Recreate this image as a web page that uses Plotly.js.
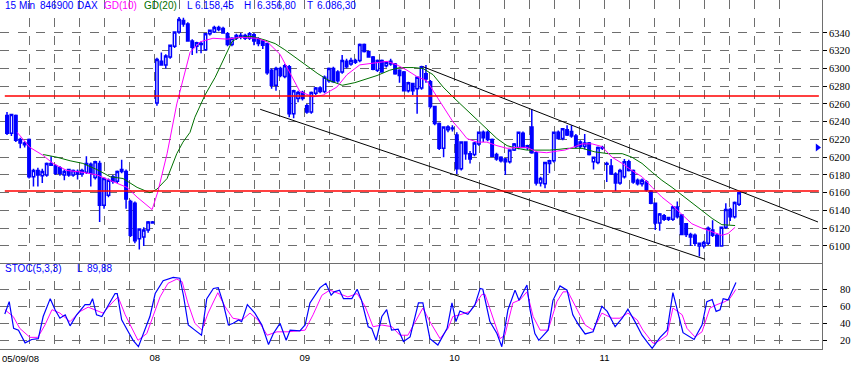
<!DOCTYPE html>
<html><head><meta charset="utf-8">
<script src="https://cdn.plot.ly/plotly-3.0.1.min.js"></script>
<style>html,body{margin:0;padding:0;background:#fff}#chart{width:853px;height:367px}</style>
</head><body><div id="chart"></div>
<script>
// ---- OHLC (15 min bars, DAX) ----
const open = [
 6247,6227,6247,6220,6216,6220,6178,6185,6179,6180,6193,6190,6188,6180,6186,6180,6184,6181,6183,6192,6177,6193,6146,6157,6178,6173,6184,6184,6150,6148,6108,6110,6118,6126,
 6261,6308,6304,6313,6325,6341,6354,6350,6331,6325,6328,6321,6339,6341,6346,6345,6339,6327,6334,6337,6337,6334,6338,6333,6331,6328,6298,6281,6300,6291,6302,6249,6266,6273,
 6258,6251,6272,6278,6274,6286,6300,6296,6296,6308,6305,6309,6309,6327,6319,6313,6298,6309,6303,6308,6305,6298,6296,6275,6283,6277,6278,6294,6285,6257,6238,6210,6231,6233,
 6225,6187,6217,6204,6203,6215,6228,6228,6220,6203,6200,6198,6195,6208,6211,6227,6211,6234,6205,6171,6170,6193,6196,6228,6221,6231,6229,6224,6217,6212,6216,6195,6194,6210,
 6192,6190,6181,6171,6178,6195,6185,6174,6170,6172,6162,6148,6126,6134,6130,6130,6144,6135,6125,6110,6112,6100,6100,6103,6118,6112,6100,6121,6141,6133,6147];
const high = [
 6251,6249,6248,6222,6218,6221,6187,6188,6187,6194,6201,6192,6190,6186,6187,6186,6186,6187,6201,6194,6196,6196,6177,6176,6180,6185,6197,6186,6152,6150,6120,6121,6128,6128,
 6312,6318,6316,6327,6342,6358,6357,6352,6333,6330,6330,6340,6344,6348,6348,6347,6341,6335,6339,6340,6339,6341,6340,6335,6332,6329,6300,6302,6302,6305,6304,6276,6275,6275,
 6260,6274,6279,6280,6292,6301,6302,6298,6315,6311,6312,6311,6328,6328,6320,6314,6310,6310,6308,6311,6306,6299,6297,6285,6284,6291,6303,6304,6287,6258,6239,6235,6236,6236,
 6228,6218,6218,6207,6217,6229,6230,6230,6221,6205,6201,6199,6209,6216,6229,6229,6214,6254,6206,6178,6195,6197,6229,6230,6233,6236,6236,6226,6219,6226,6217,6200,6212,6213,
 6195,6198,6183,6187,6198,6197,6186,6176,6176,6174,6163,6149,6137,6136,6133,6145,6150,6136,6126,6115,6114,6104,6106,6122,6129,6114,6122,6148,6143,6150,6161];
const low = [
 6225,6224,6217,6210,6211,6176,6167,6167,6171,6178,6190,6180,6179,6174,6178,6178,6175,6178,6181,6167,6175,6127,6142,6155,6170,6171,6182,6142,6110,6103,6096,6100,6115,6125,
 6258,6303,6300,6311,6323,6339,6347,6330,6315,6317,6317,6320,6337,6340,6342,6339,6325,6325,6332,6333,6332,6332,6326,6325,6322,6293,6277,6275,6290,6289,6245,6244,6262,6264,
 6249,6249,6270,6272,6272,6284,6284,6284,6294,6300,6303,6305,6307,6318,6312,6298,6296,6295,6301,6303,6293,6284,6274,6273,6270,6249,6276,6284,6255,6236,6208,6200,6228,6229,
 6181,6185,6197,6193,6201,6213,6217,6218,6200,6196,6194,6180,6193,6207,6209,6210,6208,6204,6168,6167,6165,6182,6194,6220,6219,6224,6222,6210,6210,6209,6202,6186,6192,6208,
 6172,6180,6162,6169,6176,6184,6170,6168,6167,6161,6147,6118,6117,6128,6128,6128,6131,6112,6110,6100,6100,6088,6097,6101,6110,6099,6099,6119,6128,6131,6145];
const close = [
 6227,6248,6219,6216,6214,6178,6185,6180,6184,6193,6191,6182,6182,6184,6180,6185,6181,6185,6193,6182,6195,6146,6176,6174,6173,6184,6186,6153,6112,6106,6119,6118,6127,6127,
 6310,6304,6314,6326,6341,6355,6350,6331,6324,6329,6327,6339,6343,6346,6344,6340,6327,6334,6337,6335,6334,6339,6331,6328,6326,6295,6281,6300,6292,6303,6249,6275,6273,6266,
 6251,6273,6278,6274,6290,6300,6285,6286,6309,6302,6309,6307,6327,6319,6313,6299,6309,6296,6307,6305,6294,6292,6275,6284,6275,6290,6302,6288,6257,6238,6210,6234,6234,6232,
 6187,6217,6204,6198,6216,6228,6222,6220,6201,6198,6196,6195,6208,6215,6228,6211,6213,6205,6171,6176,6194,6196,6228,6221,6232,6225,6224,6212,6212,6216,6203,6200,6211,6211,
 6193,6181,6171,6185,6195,6185,6172,6170,6174,6163,6148,6126,6136,6130,6132,6144,6133,6113,6113,6113,6103,6103,6104,6120,6112,6100,6121,6141,6133,6149,6160];

// ---- day labels (bars per day: 34) ----
const dayLabels = ["05/09/08", "08", "09", "10", "11"];
const BARS_PER_DAY = 34;

// ---- moving averages GD(10), GD(20), read at bar positions ----
const gd10X = [2.3,5.2,8.2,10.4,13.6,17.2,20.4,23.4,27.2,29.5,32.9,34.2,36.3,38.5,39.7,41.5,43.8,46.7,49.9,52.8,56.7,59.0,61.9,64.2,66.4,69.4,71.7,74.8,77.1,80.0,83.9,86.2,88.4,90.7,92.9,95.2,97.5,98.9,101.1,102.7,104.3,106.6,108.8,111.1,113.4,115.6,117.9,120.2,122.4,124.9,126.5,128.8,130.4,132.7,134.9,137.2,139.5,141.7,144.0,146.3,148.5,150.8,153.1,155.3,157.6,159.9,162.1,163.5,165.1];
const gd10 = [6228,6211,6202,6193,6185,6183,6180,6174,6166,6155,6141,6161,6204,6260,6284,6318,6330,6334,6333,6335,6334,6330,6316,6294,6274,6268,6270,6279,6293,6304,6307,6308,6304,6298,6291,6286,6268,6257,6240,6231,6221,6217,6217,6213,6210,6211,6211,6206,6205,6207,6208,6212,6215,6215,6212,6200,6193,6185,6178,6166,6155,6146,6135,6125,6120,6116,6112,6114,6121];
const gd20X = [8.2,11.3,14.3,17.2,20.4,23.4,26.3,29.5,32.4,34.0,36.3,38.5,39.9,41.5,42.6,44.9,47.2,49.4,51.0,52.4,55.6,58.5,60.8,63.0,65.3,67.6,70.5,72.8,76.0,78.9,81.2,83.9,86.8,89.1,92.1,94.3,96.6,98.9,101.1,104.3,106.6,108.8,111.1,113.4,115.6,117.9,120.2,123.1,125.4,127.2,130.4,133.3,136.3,139.5,141.7,144.0,146.3,148.5,150.8,153.1,155.3,157.6,159.9,162.1,165.1];
const gd20 = [6203,6200,6196,6193,6186,6178,6176,6166,6160,6164,6176,6204,6217,6228,6245,6270,6290,6313,6330,6335,6336,6332,6328,6321,6313,6304,6294,6287,6281,6284,6288,6292,6298,6301,6301,6300,6293,6279,6268,6253,6242,6232,6221,6213,6210,6208,6208,6208,6209,6210,6210,6206,6204,6204,6200,6193,6183,6174,6166,6157,6148,6140,6131,6124,6123];

// ---- STOC(5,3,3) %K and %D ----
const stochKX = [-0.5,0.5,1.5,2.6,4.1,5.6,7.1,8.2,9.8,10.9,12.0,13.2,14.3,15.8,17.7,18.8,19.4,20.3,21.5,22.6,24.5,25.0,26.0,27.5,28.6,29.8,30.9,32.4,33.6,35.4,37.7,39.2,40.0,41.1,42.6,44.1,45.3,46.8,47.9,49.0,50.2,51.3,52.5,53.2,54.5,56.2,57.8,59.3,60.4,61.9,63.3,64.2,66.4,67.6,68.7,71.0,72.3,73.5,74.2,75.4,76.3,78.2,79.4,80.4,81.9,82.7,83.7,85.0,86.1,87.2,88.7,89.9,91.4,93.3,94.3,95.9,97.7,99.8,100.9,101.8,102.7,104.5,106.1,107.3,107.9,109.5,111.1,112.2,113.6,115.2,116.1,117.9,118.6,119.7,120.6,122.7,123.8,125.4,127.0,128.3,129.5,131.1,132.9,134.9,136.1,137.9,139.5,140.8,142.4,144.0,145.4,146.3,148.1,149.7,151.0,152.2,153.3,155.8,157.6,158.7,159.9,160.8,161.7,162.4,163.5,165.3];
const stochK = [51,65.5,34,32,17,21,22,48,69,56,46,50,37,50,62,62,69,50,48,58,75,75,44,30,20,12.5,28,48,75,90,94,93,73,38,32,26,69,81,82,64,38,40,44,42,62,52,38,15,28,40,20,32,31,38,64,82,87,73,77,79,69,69,80,67,36,34,20,48,56,32,33,18.5,24,64,64,22,14.5,34,64,42,54.5,50.6,61.6,81,80,42,28,12.5,56,79,67,85,56,28,20,32,67,84,79,50,39,27.5,30,60,54,36,46,56.5,42,26,16.5,10.6,23.5,32,76,52,29,21,38,65.5,68,54,56,69,67.5,88];
const stochDX = [-0.5,1.4,2.9,5.2,7.0,8.6,10.2,12.0,14.3,16.6,18.4,20.0,21.8,23.8,25.2,26.8,28.3,29.7,31.7,33.1,34.7,36.5,38.5,39.7,41.0,42.6,44.2,45.6,47.8,49.4,51.2,53.3,55.1,56.9,59.0,61.2,63.5,65.8,67.6,69.4,71.4,73.2,75.5,77.3,79.4,81.2,83.0,85.0,87.3,89.1,90.9,92.9,94.3,95.9,98.2,100.0,101.1,102.7,105.0,106.6,107.7,108.4,110.0,111.8,112.9,114.7,116.3,117.9,119.3,120.9,122.7,124.7,126.1,127.2,129.3,131.1,132.9,134.9,137.2,139.0,140.8,142.9,144.2,146.5,148.1,149.7,151.0,153.1,154.2,156.0,157.6,159.4,161.0,162.8,163.9,165.3];
const stochD = [56,48,34,23.5,23.5,38,56,52,42,54,59,56,52,64,71,50,34,20,28,48,71,87,92,89,64,40,32,52,76,60,46,44,52,44,26,30,30,31,32,50,73,79,75,71,75,60,36,38,36,26,26,44,58,42,22,34,48,50,54,65.5,74,74,50,22,26,64,67.5,77,48,32,32,65.5,77,77,56,38,32,52,46,46,52,44,32,16.5,20,26,58,50,34,24,30,58,62,65.5,69,80];

// ---- drawn lines: support/resistance and trend channel ----
const levels = [6269, 6162];
const channelUpperX = [94.3, 183.9], channelUpperY = [6302, 6127];
const channelLowerX = [57.4, 158.3], channelLowerY = [6254, 6085];
const lastMarkerY = 6211;

const bars = open.map((_, i) => i);
const BLUE = '#0000ff', MAG = '#ff00ff', GRN = '#007000';

// vertical grid every 1/6 day; day labels on day boundaries
const gridVals = [], gridText = [];
for (let k = 1; k <= 31; k++) {
  gridVals.push(-0.5 + k * BARS_PER_DAY / 6);
  const d = k / 6;
  gridText.push((k % 6 === 0 && d < dayLabels.length) ? dayLabels[d] : '');
}

const traces = [
  {type: 'scatter', mode: 'lines', x: gd20X, y: gd20, line: {color: GRN, width: 1}, xaxis: 'x', yaxis: 'y', hoverinfo: 'skip'},
  {type: 'scatter', mode: 'lines', x: gd10X, y: gd10, line: {color: MAG, width: 1}, xaxis: 'x', yaxis: 'y', hoverinfo: 'skip'},
  {type: 'candlestick', x: bars, open: open, high: high, low: low, close: close, xaxis: 'x', yaxis: 'y',
   increasing: {line: {color: BLUE, width: 1.5}, fillcolor: '#ffffff'},
   decreasing: {line: {color: BLUE, width: 1.5}, fillcolor: BLUE}, whiskerwidth: 0, hoverinfo: 'skip'},
  {type: 'scatter', mode: 'lines', x: channelUpperX, y: channelUpperY, line: {color: '#000', width: 1}, xaxis: 'x', yaxis: 'y'},
  {type: 'scatter', mode: 'lines', x: channelLowerX, y: channelLowerY, line: {color: '#000', width: 1}, xaxis: 'x', yaxis: 'y'},
  {type: 'scatter', mode: 'markers', x: [bars.length + 16.8], y: [lastMarkerY], marker: {symbol: 'triangle-right', size: 7, color: BLUE}, cliponaxis: false, xaxis: 'x', yaxis: 'y'},
  {type: 'scatter', mode: 'lines', x: stochDX, y: stochD, line: {color: MAG, width: 1}, xaxis: 'x2', yaxis: 'y2'},
  {type: 'scatter', mode: 'lines', x: stochKX, y: stochK, line: {color: BLUE, width: 1.2}, xaxis: 'x2', yaxis: 'y2'}
];

const xr = [-1.59, 184.81];
const axisLine = '#6e6e6e';
const sans = 'Liberation Sans, Arial, sans-serif';
const W = 822;
function hdr(txt, px, color, py) {
  return {xref: 'paper', yref: 'paper', x: px / W, y: py, xanchor: 'left', yanchor: 'middle',
          text: txt, showarrow: false, font: {family: sans, size: 10, color: color}};
}
const topY = (349 - 6) / 349, stY = (349 - 268) / 349;

const layout = {
  width: 853, height: 367,
  margin: {l: 0, r: 31, t: 0, b: 18, pad: 0},
  paper_bgcolor: '#fff', plot_bgcolor: '#fff',
  showlegend: false, hovermode: false, boxgap: 0.2,
  xaxis: {domain: [0, 1], range: xr, anchor: 'y', tickmode: 'array', tickvals: gridVals, ticktext: gridText,
          showticklabels: false, showgrid: true, gridcolor: '#6e6e6e', griddash: 'dash', gridwidth: 1,
          zeroline: false, showline: true, linecolor: axisLine, linewidth: 1, ticks: '', rangeslider: {visible: false}, fixedrange: true},
  yaxis: {domain: [(349 - 263) / 349, 1], range: [6080.8, 6377.1], anchor: 'x', side: 'right',
          tickvals: [6100,6120,6140,6160,6180,6200,6220,6240,6260,6280,6300,6320,6340],
          ticktext: ['6100','6120','6140','6160','6180','6200','6220','6240','6260','6280','6300','6320','6340'],
          showgrid: true, gridcolor: '#6e6e6e', griddash: 'dash', gridwidth: 1, zeroline: false,
          showline: true, linecolor: axisLine, linewidth: 1, ticks: 'outside', ticklen: 4, tickcolor: '#000',
          tickfont: {family: 'Liberation Serif, Times New Roman, serif', size: 10.5, color: '#000'}},
  xaxis2: {domain: [0, 1], range: xr, anchor: 'y2', matches: 'x', tickmode: 'array', tickvals: gridVals, ticktext: gridText,
           showticklabels: true, tickfont: {family: sans, size: 9.5, color: '#000'}, tickangle: 0,
           showgrid: true, gridcolor: '#6e6e6e', griddash: 'dash', gridwidth: 1,
           zeroline: false, showline: true, linecolor: axisLine, linewidth: 1, ticks: '', fixedrange: true},
  yaxis2: {domain: [0, (349 - 263) / 349], range: [9.8, 110.9], anchor: 'x2', side: 'right',
           tickvals: [20, 40, 60, 80], ticktext: ['20', '40', '60', '80'],
           showgrid: true, gridcolor: '#6e6e6e', griddash: 'dash', gridwidth: 1, zeroline: false,
           showline: true, linecolor: axisLine, linewidth: 1, ticks: 'outside', ticklen: 4, tickcolor: '#000',
           ticklabelstandoff: 11,
           tickfont: {family: 'Liberation Serif, Times New Roman, serif', size: 10.5, color: '#000'}},
  shapes: levels.map(v => ({type: 'line', xref: 'x', yref: 'y', x0: -0.5, x1: 184.1, y0: v, y1: v,
                            line: {color: '#ff0000', width: 1.5}})),
  annotations: [
    hdr('15 Min', 3, BLUE, topY), hdr('846900', 38, BLUE, topY), hdr('DAX', 75, BLUE, topY),
    hdr('GD(10)', 102, MAG, topY), hdr('GD(20)', 142, GRN, topY),
    hdr('L', 185, BLUE, topY), hdr('6.158,45', 193, BLUE, topY),
    hdr('H', 242, BLUE, topY), hdr('6.356,80', 255, BLUE, topY),
    hdr('T', 305, BLUE, topY), hdr('6.086,30', 315, BLUE, topY),
    hdr('STOC(5,3,3)', 3, BLUE, stY), hdr('L', 75, BLUE, stY), hdr('89,88', 85, BLUE, stY),
    {xref: 'paper', yref: 'paper', x: 0, y: (349 - 358) / 349, xanchor: 'left', yanchor: 'middle',
     text: dayLabels[0], showarrow: false, font: {family: sans, size: 9.5, color: '#000'}}
  ]
};

Plotly.newPlot('chart', traces, layout, {staticPlot: true, displayModeBar: false});
</script></body></html>
